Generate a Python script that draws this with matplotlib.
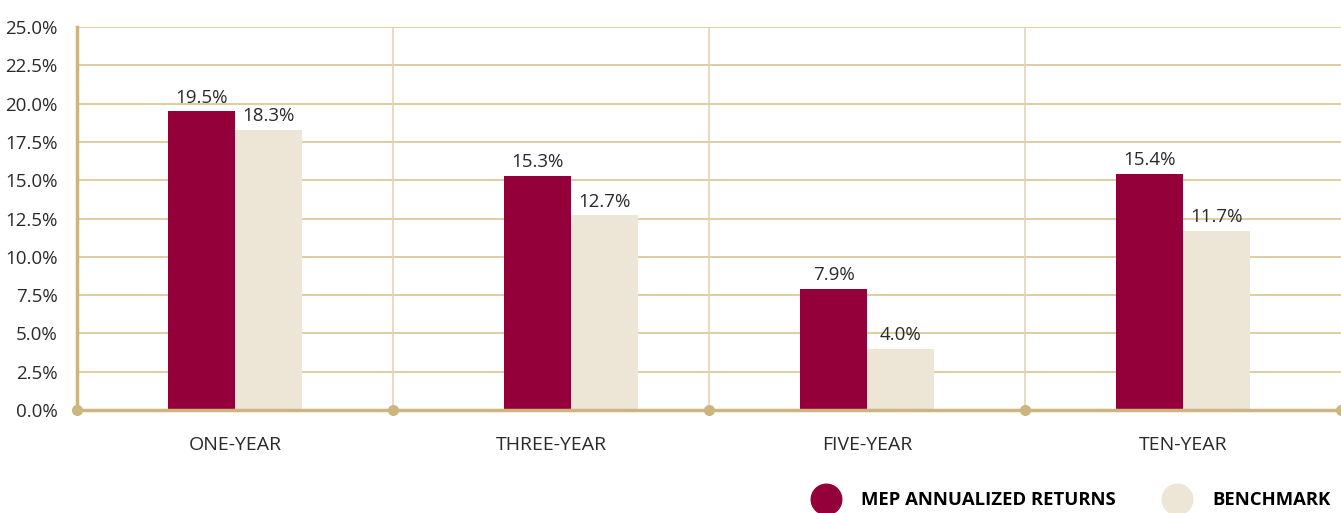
import numpy as np
import matplotlib.pyplot as plt
from matplotlib.lines import Line2D

plt.rcParams['font.family'] = ['Open Sans', 'DejaVu Sans']

# data
periods = ['ONE-YEAR', 'THREE-YEAR', 'FIVE-YEAR', 'TEN-YEAR']
mep_returns = [19.5, 15.3, 7.9, 15.4]
benchmark = [18.3, 12.7, 4.0, 11.7]

red = '#93003a'
beige = '#ede5d6'
gold = '#cdb580'
grid_gold = '#d8c592'

fig = plt.figure(figsize=(13.41, 5.13), dpi=100)
ax = fig.add_axes([77 / 1341, 1 - 410 / 513, 1 - 77 / 1341, 383 / 513])

x = np.arange(len(periods))
# the reference draws the three-year pair slightly right of its cell centre
shift = np.array([0.0, 0.063, 0.0, 0.0])
w = 0.212

b1 = ax.bar(x + shift - w / 2, mep_returns, w, color=red, zorder=3)
b2 = ax.bar(x + shift + w / 2, benchmark, w, color=beige, zorder=3)

for bars, vals in ((b1, mep_returns), (b2, benchmark)):
    for r, v in zip(bars, vals):
        ax.text(r.get_x() + r.get_width() / 2, v + 0.3, f'{v:.1f}%',
                ha='center', va='bottom', fontsize=13.5, color='#2a2a2a')

ax.set_xlim(-0.5, len(periods) - 0.5)
ax.set_ylim(0, 25)
ax.set_yticks(np.arange(0, 25.1, 2.5))
ax.set_yticklabels([f'{t:.1f}%' for t in np.arange(0, 25.1, 2.5)])
ax.set_xticks(x)
ax.set_xticklabels(periods)

for y in np.arange(2.5, 25.1, 2.5):
    ax.axhline(y, color=grid_gold, lw=1.2, zorder=1)
for xb in np.arange(0.5, len(periods) - 0.5):
    ax.axvline(xb, color='#e2d5b3', lw=1.2, zorder=1)

for s in ['top', 'right']:
    ax.spines[s].set_visible(False)
ax.spines['left'].set_color(gold)
ax.spines['left'].set_linewidth(2.5)
ax.spines['bottom'].set_color(gold)
ax.spines['bottom'].set_linewidth(2.5)
ax.spines['bottom'].set_zorder(4)

ax.plot(np.arange(-0.5, len(periods)), np.zeros(len(periods) + 1), 'o',
        color=gold, ms=7, clip_on=False, zorder=5)

ax.tick_params(axis='both', length=0, labelsize=13.5, colors='#2a2a2a')
ax.tick_params(axis='x', pad=19, labelsize=14)
ax.tick_params(axis='y', pad=14)

handles = [Line2D([], [], marker='o', ls='', ms=22, color=red),
           Line2D([], [], marker='o', ls='', ms=22, color=beige)]
fig.legend(handles, ['MEP ANNUALIZED RETURNS', 'BENCHMARK'],
           loc='center left', bbox_to_anchor=(791 / 1341, 1 - 500 / 513),
           ncol=2, frameon=False, handletextpad=0.9, columnspacing=2.3,
           prop={'weight': 'bold', 'size': 13.3})

fig.savefig('out.png', dpi=100)
